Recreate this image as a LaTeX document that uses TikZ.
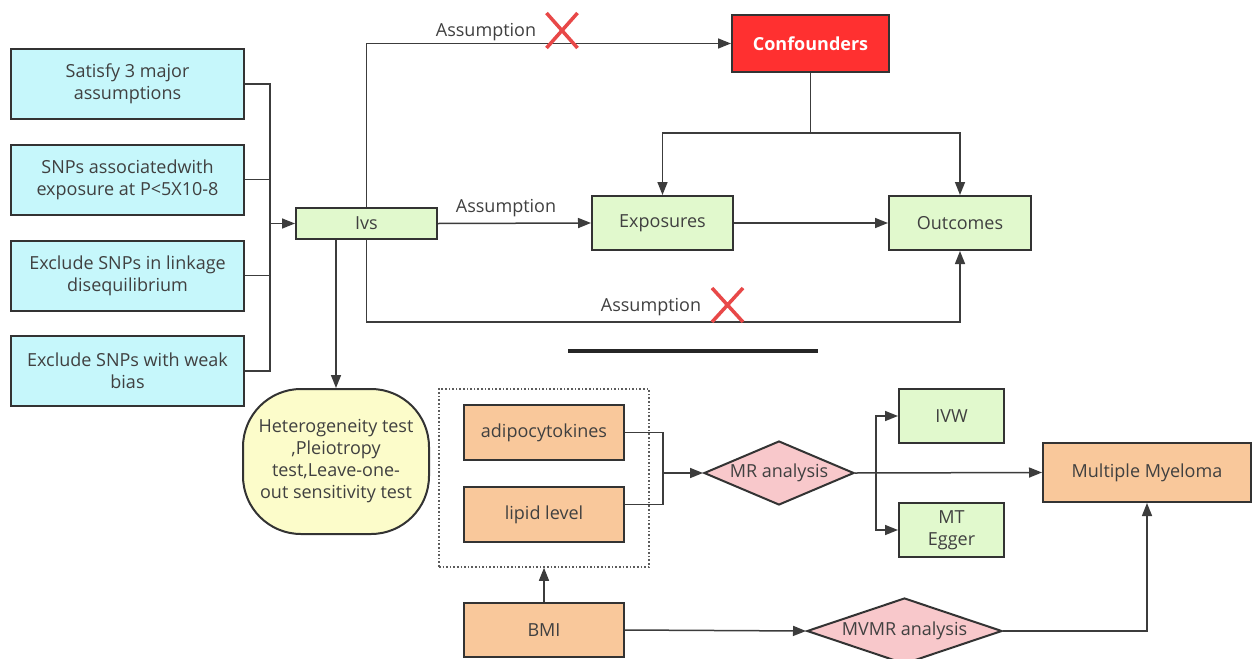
\documentclass[tikz,border=0pt]{standalone}
\usepackage{fontspec}
\setmainfont{Open Sans}
\usetikzlibrary{arrows.meta,shapes.geometric}
\definecolor{bord}{HTML}{333333}
\definecolor{conn}{HTML}{3C3C3C}
\definecolor{txt}{HTML}{404040}
\definecolor{cyanf}{HTML}{C6F7FB}
\definecolor{greenf}{HTML}{E1F9CD}
\definecolor{redf}{HTML}{FF3030}
\definecolor{orangef}{HTML}{F9C89B}
\definecolor{pinkf}{HTML}{F8C8CB}
\definecolor{yellowf}{HTML}{FCFCCA}
\definecolor{xred}{HTML}{E84848}
\begin{document}
\begin{tikzpicture}[x=1pt,y=-1pt,
  every node/.style={font=\fontsize{18}{22}\selectfont, text=txt},
  bx/.style={draw=bord, line width=2pt, inner sep=0pt, align=center},
  cyanbox/.style={bx, fill=cyanf, minimum width=233pt, minimum height=70pt},
  greenbox/.style={bx, fill=greenf},
  orangebox/.style={bx, fill=orangef},
  dia/.style={diamond, draw=bord, line width=2pt, fill=pinkf, inner sep=0pt},
  ln/.style={draw=conn, line width=1.5pt},
  arr/.style={ln, -{Triangle[length=13pt,width=10pt]}},
  xmark/.style={draw=xred, line width=3.5pt}
]
\useasboundingbox (0,0) rectangle (1254,659);
\fill[white] (0,0) rectangle (1254,659);

% left column
\node[cyanbox] (s1) at (127.5,84) {Satisfy 3 major\\assumptions};
\node[cyanbox] (s2) at (127.5,179.5) {SNPs associatedwith\\exposure at P<5X10-8};
\node[cyanbox] (s3) at (127.5,275.5) {Exclude SNPs in linkage\\disequilibrium};
\node[cyanbox] (s4) at (127.5,371) {Exclude SNPs with weak\\bias};

% upper diagram
\node[greenbox, minimum width=141pt, minimum height=31pt] (ivs) at (366.5,223.5) {Ivs};
\node[bx, fill=redf, minimum width=157pt, minimum height=57pt, font=\fontsize{18}{22}\selectfont\bfseries, text=white] (conf) at (810.5,43.5) {Confounders};
\node[greenbox, minimum width=141pt, minimum height=54pt] (expo) at (662.5,223) {Exposures};
\node[greenbox, minimum width=142pt, minimum height=54pt] (outc) at (960,223) {Outcomes};

% heterogeneity
\node[bx, fill=yellowf, minimum width=186pt, minimum height=145pt, rounded corners=58pt] (het) at (336,461.5)
  {Heterogeneity test\\,Pleiotropy\\test,Leave-one-\\out sensitivity test};

% lower diagram
\node[draw=bord!80, dotted, line width=1.6pt, minimum width=210pt, minimum height=178pt, inner sep=0pt] (grp) at (544,478) {};
\node[orangebox, minimum width=160pt, minimum height=55pt] (adipo) at (544,432.5) {adipocytokines};
\node[orangebox, minimum width=160pt, minimum height=55pt] (lipid) at (544,514.5) {lipid level};
\node[orangebox, minimum width=160pt, minimum height=54pt] (bmi) at (544,630) {BMI};
\node[dia, minimum width=150pt, minimum height=64pt] (mr) at (779,473) {\makebox[0pt]{MR analysis}};
\node[dia, minimum width=195pt, minimum height=66pt] (mvmr) at (904.5,631) {\makebox[0pt]{MVMR analysis}};
\node[greenbox, minimum width=105pt, minimum height=54pt] (ivw) at (951.5,416) {IVW};
\node[greenbox, minimum width=105pt, minimum height=54pt] (egger) at (951.5,530) {MT\\Egger};
\node[orangebox, minimum width=208pt, minimum height=59pt] (mm) at (1147,472.5) {Multiple Myeloma};

% connectors: left bracket
\coordinate (jx) at (270,223.5);
\draw[ln] (s1.east) -| (jx);
\draw[ln] (s2.east) -| (jx);
\draw[ln] (s3.east) -| (jx);
\draw[ln] (s4.east) -| (jx);
\draw[arr] (jx) -- (ivs.west);

% assumptions
\draw[arr] (ivs.north) |- (conf.west);
\node (a1) at (486,32) {Assumption};
\draw[arr] (ivs.east) -- (expo.west);
\node (a2) at (506,208) {Assumption};
\draw[arr] (expo.east) -- (outc.west);
\coordinate (bl) at (960,322);
\draw[arr] (ivs.south) |- (bl) -- (outc.south);
\node (a3) at (651,307) {Assumption};

% red crosses
\draw[xmark] (546.5,13) -- (577.5,48) (577.5,13) -- (546.5,48);
\draw[xmark] (712,288) -- (743,322) (743,288) -- (712,322);

% confounders split
\coordinate (cj) at (810.5,133);
\draw[ln] (conf.south) -- (cj);
\draw[arr] (cj) -| (expo.north);
\draw[arr] (cj) -| (outc.north);

% separator
\draw[line width=4pt, black!85] (568,351) -- (818,351);

% ivs to heterogeneity
\draw[arr] (ivs.south -| het.north) -- (het.north);

% lower connectors
\coordinate (aj) at (663,473);
\draw[ln] (adipo.east) -| (aj);
\draw[ln] ([yshift=10pt]lipid.east) -| (aj);
\draw[arr] (aj) -- (mr.west);
\draw[arr] (mr.east) -- (mm.west);
\coordinate (bj) at (876,473);
\draw[arr] (bj) |- (ivw.west);
\draw[arr] (bj) |- (egger.west);
\draw[arr] (bmi.north) -- (grp.south);
\draw[arr] (bmi.east) -- (mvmr.west);
\draw[arr] (mvmr.east) -| (mm.south);
\end{tikzpicture}
\end{document}
